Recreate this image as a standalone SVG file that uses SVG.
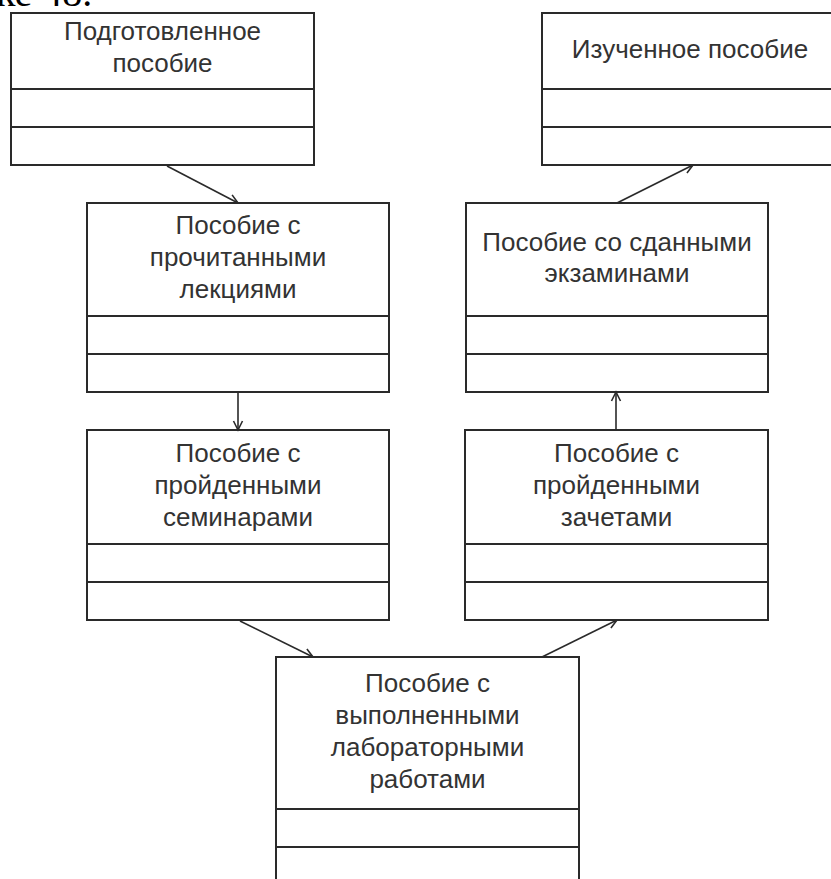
<svg xmlns="http://www.w3.org/2000/svg" width="831" height="879" viewBox="0 0 831 879">
  <style>
    .box { fill: #ffffff; stroke: #2a2a2a; stroke-width: 2; }
    .div { stroke: #2a2a2a; stroke-width: 2; }
    .lbl { font-family: "Liberation Sans", Arial, sans-serif; font-size: 26px; fill: #333333; text-anchor: middle; }
    .edge { stroke: #2a2a2a; stroke-width: 1.6; fill: none; marker-end: url(#open); }
    .page { font-family: "Liberation Serif", "Times New Roman", serif; font-size: 40px; fill: #000000; }
  </style>
  <defs>
    <marker id="open" markerUnits="userSpaceOnUse" markerWidth="12" markerHeight="12" refX="10" refY="6" orient="auto">
      <path d="M1,1.5 L10,6 L1,10.5" fill="none" stroke="#2a2a2a" stroke-width="1.6"/>
    </marker>
  </defs>
  <rect width="831" height="879" fill="#ffffff"/>

  <!-- tail of the caption line above the figure -->
  <text class="page" x="-4" y="6">ке 48.</text>

  <g id="node-prepared">
    <rect class="box" x="11" y="13" width="303" height="152"/>
    <line class="div" x1="11" y1="89" x2="314" y2="89"/>
    <line class="div" x1="11" y1="127" x2="314" y2="127"/>
    <text class="lbl" x="162.5" y="40">Подготовленное</text>
    <text class="lbl" x="162.5" y="72">пособие</text>
  </g>

  <g id="node-lectures">
    <rect class="box" x="87" y="203" width="302" height="189"/>
    <line class="div" x1="87" y1="316" x2="389" y2="316"/>
    <line class="div" x1="87" y1="354" x2="389" y2="354"/>
    <text class="lbl" x="238" y="234">Пособие с</text>
    <text class="lbl" x="238" y="266">прочитанными</text>
    <text class="lbl" x="238" y="298">лекциями</text>
  </g>

  <g id="node-seminars">
    <rect class="box" x="87" y="430" width="302" height="190"/>
    <line class="div" x1="87" y1="544" x2="389" y2="544"/>
    <line class="div" x1="87" y1="582" x2="389" y2="582"/>
    <text class="lbl" x="238" y="462">Пособие с</text>
    <text class="lbl" x="238" y="494">пройденными</text>
    <text class="lbl" x="238" y="526">семинарами</text>
  </g>

  <g id="node-labs">
    <rect class="box" x="276" y="657" width="303" height="240"/>
    <line class="div" x1="276" y1="809" x2="579" y2="809"/>
    <line class="div" x1="276" y1="847" x2="579" y2="847"/>
    <text class="lbl" x="427.5" y="692">Пособие с</text>
    <text class="lbl" x="427.5" y="724">выполненными</text>
    <text class="lbl" x="427.5" y="756">лабораторными</text>
    <text class="lbl" x="427.5" y="788">работами</text>
  </g>

  <g id="node-credits">
    <rect class="box" x="465" y="430" width="303" height="190"/>
    <line class="div" x1="465" y1="544" x2="768" y2="544"/>
    <line class="div" x1="465" y1="582" x2="768" y2="582"/>
    <text class="lbl" x="616.5" y="462">Пособие с</text>
    <text class="lbl" x="616.5" y="494">пройденными</text>
    <text class="lbl" x="616.5" y="526">зачетами</text>
  </g>

  <g id="node-exams">
    <rect class="box" x="466" y="203" width="302" height="189"/>
    <line class="div" x1="466" y1="316" x2="768" y2="316"/>
    <line class="div" x1="466" y1="354" x2="768" y2="354"/>
    <text class="lbl" x="617" y="251">Пособие со сданными</text>
    <text class="lbl" x="617" y="282">экзаминами</text>
  </g>

  <g id="node-studied">
    <rect class="box" x="542" y="13" width="296" height="152"/>
    <line class="div" x1="542" y1="89" x2="838" y2="89"/>
    <line class="div" x1="542" y1="127" x2="838" y2="127"/>
    <text class="lbl" x="690" y="58">Изученное пособие</text>
  </g>

  <g id="connectors">
    <line class="edge" x1="167" y1="166" x2="238" y2="203"/>
    <line class="edge" x1="238" y1="393" x2="238" y2="430"/>
    <line class="edge" x1="240" y1="621" x2="313" y2="657"/>
    <line class="edge" x1="542" y1="657" x2="617" y2="620"/>
    <line class="edge" x1="616" y1="430" x2="616" y2="392"/>
    <line class="edge" x1="617" y1="203" x2="693" y2="165"/>
  </g>
</svg>
